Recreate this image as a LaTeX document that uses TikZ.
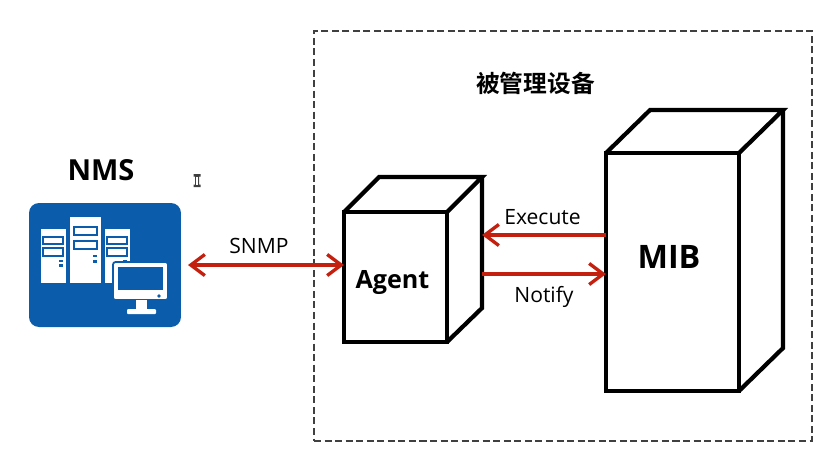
\documentclass[tikz,border=0pt]{standalone}
\usepackage{fontspec}
\setmainfont{Open Sans}
\newfontfamily\cjk{Noto Sans CJK SC}[BoldFont={Noto Sans CJK SC Bold}]
\usetikzlibrary{arrows.meta,positioning}

\begin{document}
\begin{tikzpicture}[x=0.02cm,y=-0.02cm,
    cube/.style={draw,line width=2.4pt,fill=white,inner sep=0pt,outer sep=0pt,font=\bfseries},
    edge3d/.style={draw,line width=2.4pt,line join=miter},
    link/.style={draw=linkred,line width=2.1pt,-{Straight Barb[length=8pt,width=12pt,line width=1.9pt]}},
    linkboth/.style={draw=linkred,line width=2.1pt,{Straight Barb[length=8pt,width=12pt,line width=1.9pt]}-{Straight Barb[length=8pt,width=12pt,line width=1.9pt]}},
    lbl/.style={font=\fontsize{12}{14}\selectfont,inner sep=0pt},
    icon/.style={fill=white,draw=none},
    slot/.style={draw=nmsblue,line width=1pt,fill=white},
  ]
    \definecolor{linkred}{HTML}{C4200F}
    \definecolor{nmsblue}{HTML}{0B5CAB}
    \useasboundingbox (0,0) rectangle (834,461);

    % managed device frame
    \node[draw=black!75,dash pattern=on 4pt off 2pt,line width=0.8pt,minimum width=9.96cm,minimum height=8.2cm] (device) at (563,236) {};
    \node[font=\cjk\bfseries\fontsize{13.5}{16}\selectfont,inner sep=0pt] (devtitle) at (535.5,83) {被管理设备};

    % agent
    \node[cube,minimum width=2.06cm,minimum height=2.6cm] (agent) at (395.5,277) {};
    \node[font=\bfseries\fontsize{14.3}{17}\selectfont,inner sep=0pt] (agenttxt) at (392.5,283) {Agent};
    \draw[edge3d] (agent.north west) -- ++(35,-35) coordinate (agenta) -- ++(103,0) coordinate (agentb) -- (agent.north east);
    \draw[edge3d] (agentb) -- ++(0,131) coordinate (agentc) -- (agent.south east);

    % mib
    \node[cube,minimum width=2.66cm,minimum height=4.76cm] (mib) at (672.5,272) {};
    \node[font=\bfseries\fontsize{18.4}{21}\selectfont,inner sep=0pt] (mibtxt) at (669,257) {MIB};
    \draw[edge3d] (mib.north west) -- ++(44,-43) coordinate (miba) -- ++(133,0) coordinate (mibb) -- (mib.north east);
    \draw[edge3d] (mibb) -- ++(0,238) coordinate (mibc) -- (mib.south east);

    % nms icon
    \node[font=\bfseries\fontsize{16.5}{19}\selectfont,inner sep=0pt] (nmstxt) at (101,170) {NMS};
    \node[fill=nmsblue,rounded corners=0.2cm,minimum width=3.04cm,minimum height=2.48cm,inner sep=0pt] (nms) at (105,265) {};
    \foreach \xa/\xb/\ya in {41/66/229,70/101/217,105/130/229}
      \fill[icon] (\xa,\ya) rectangle (\xb,283);
    \foreach \xa/\xb/\ya/\yb in {43/63/237/244,43/63/248/256,74/97/227/235,74/97/241/249,107/127/237/244,107/127/248/256}
      \draw[slot] (\xa,\ya) rectangle (\xb,\yb);
    \foreach \xa/\xb/\ya/\yb in {59/63/260/262,59/63/264/267,93/97/255/257,93/97/260/263,123/127/260/262,123/127/264/267}
      \fill[nmsblue] (\xa,\ya) rectangle (\xb,\yb);
    \fill[icon,draw=nmsblue,line width=1pt,rounded corners=0.05cm] (113,262) rectangle (168,300);
    \fill[nmsblue] (118,267) rectangle (163,290);
    \fill[nmsblue] (159,296) circle (1.8);
    \fill[icon] (136,300) rectangle (147,310);
    \fill[icon,rounded corners=0.02cm] (127,309) rectangle (156,314);

    % cursor
    \fill[black!75] (193.5,174) rectangle (200.5,176.5) (195,174) rectangle (199,187) (193.5,184.5) rectangle (200.5,187);
    \fill[white] (196.2,176.5) rectangle (197.8,184.5);

    % connectors
    \draw[linkboth] (188,265) -- (agent.west |- 0,265);
    \draw[link] (mib.west |- 0,235) -- (agentb |- 0,235);
    \draw[link] (agentb |- 0,274) -- (mib.west |- 0,274);

    \node[lbl] (snmp) at (259,246) {SNMP};
    \node[lbl] (exec) at (542.5,217) {Execute};
    \node[lbl] (notify) at (544,297) {Notify};
  \end{tikzpicture}
\end{document}
